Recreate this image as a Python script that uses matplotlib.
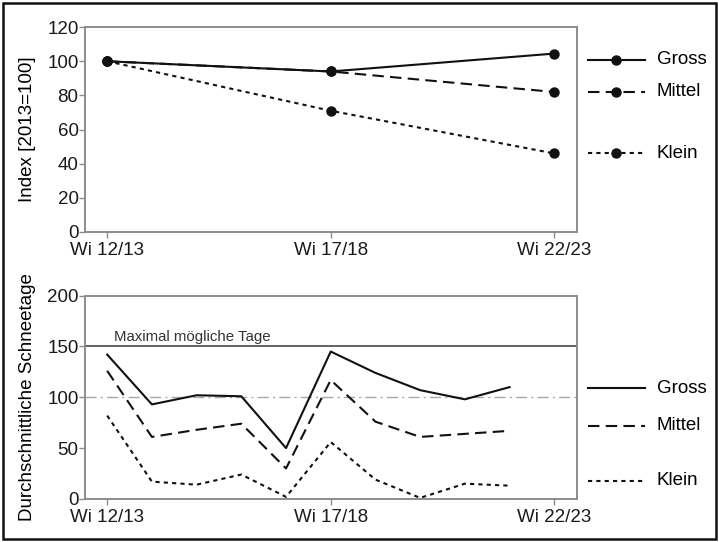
"""Skigebiete nach Grösse: Index der Eintritte und durchschnittliche Schneetage."""

import matplotlib
matplotlib.use("Agg")
import matplotlib.pyplot as plt
from matplotlib.patches import Rectangle

plt.rcParams["font.family"] = ["Liberation Sans", "DejaVu Sans"]

# Achse: Winter ab 12/13 (0) bis 22/23 (10)
TICK_POS = [0, 5, 10]
TICK_LABELS = ["Wi 12/13", "Wi 17/18", "Wi 22/23"]

# oben: Index [2013=100]
IDX_X = [0, 5, 10]
IDX_GROSS = [100, 94, 104.5]
IDX_MITTEL = [100, 94, 82]
IDX_KLEIN = [100, 71, 46]

# unten: durchschnittliche Schneetage pro Winter
SNOW_X = [0, 1, 2, 3, 4, 5, 6, 7, 8, 9]
SNOW_GROSS = [142, 93, 102, 101, 50, 145, 124, 107, 98, 110]
SNOW_MITTEL = [126, 61, 68, 74, 30, 117, 76, 61, 64, 67]
SNOW_KLEIN = [82, 17, 14, 24, 2, 56, 19, 1, 15, 13]
MAX_TAGE = 150
REF_LINE = 100

NAMES = ["Gross", "Mittel", "Klein"]
STYLES = ["-", (0, (5.5, 3)), (0, (2, 2))]
# y-Positionen der Beschriftungen rechts (Datenwerte)
LEG_TOP = [101, 82, 46]
LEG_BOT = [109, 72, 18]

GREY = "#8c8c8c"
FS = 13.5


def style_axes(ax, ylim, yticks):
    ax.set_xlim(-0.5, 10.5)
    ax.set_ylim(*ylim)
    ax.set_yticks(yticks)
    ax.set_xticks(TICK_POS, TICK_LABELS)
    for s in ax.spines.values():
        s.set_color(GREY)
        s.set_linewidth(1.4)
    ax.tick_params(colors=GREY, labelcolor="#1a1a1a", labelsize=FS, length=4.5, width=1)
    ax.tick_params(axis="x", pad=3)
    ax.tick_params(axis="y", pad=0)


def side_legend(ax, ys, marker):
    tr = ax.get_yaxis_transform()
    for name, ls, y in zip(NAMES, STYLES, ys):
        ax.plot([1.024, 1.138], [y, y], ls=ls, color="#111111", lw=1.5,
                transform=tr, clip_on=False)
        if marker:
            ax.plot([1.081], [y], "o", color="#111111", ms=6.5,
                    transform=tr, clip_on=False)
        ax.text(1.163, y, name, transform=tr, va="center", ha="left", fontsize=FS)


fig = plt.figure(figsize=(7.19, 5.42), dpi=100)
fig.patches.append(Rectangle((0.004, 0.005), 0.992, 0.99, transform=fig.transFigure,
                             fill=False, edgecolor="#111111", lw=1.8))

ax1 = fig.add_axes([0.118, 0.572, 0.684, 0.378])
for ys, ls in zip([IDX_GROSS, IDX_MITTEL, IDX_KLEIN], STYLES):
    ax1.plot(IDX_X, ys, ls=ls, marker="o", ms=6.5, color="#111111", lw=1.5, clip_on=False)
style_axes(ax1, (0, 120), range(0, 121, 20))
ax1.set_ylabel("Index [2013=100]", fontsize=FS, labelpad=8)
side_legend(ax1, LEG_TOP, True)

ax2 = fig.add_axes([0.118, 0.0795, 0.684, 0.375])
ax2.axhline(MAX_TAGE, color="#555555", lw=1.3)
ax2.axhline(REF_LINE, color="#a8a8a8", lw=1.0, ls=(0, (8, 3, 1.5, 3)))
ax2.text(0.15, MAX_TAGE + 2, "Maximal mögliche Tage", fontsize=10.8, color="#333333",
         va="bottom", ha="left")
for ys, ls in zip([SNOW_GROSS, SNOW_MITTEL, SNOW_KLEIN], STYLES):
    ax2.plot(SNOW_X, ys, ls=ls, color="#111111", lw=1.5)
style_axes(ax2, (0, 200), range(0, 201, 50))
ax2.set_ylabel("Durchschnittliche Schneetage", fontsize=FS, labelpad=8)
side_legend(ax2, LEG_BOT, False)

fig.savefig("out.png", dpi=100)
